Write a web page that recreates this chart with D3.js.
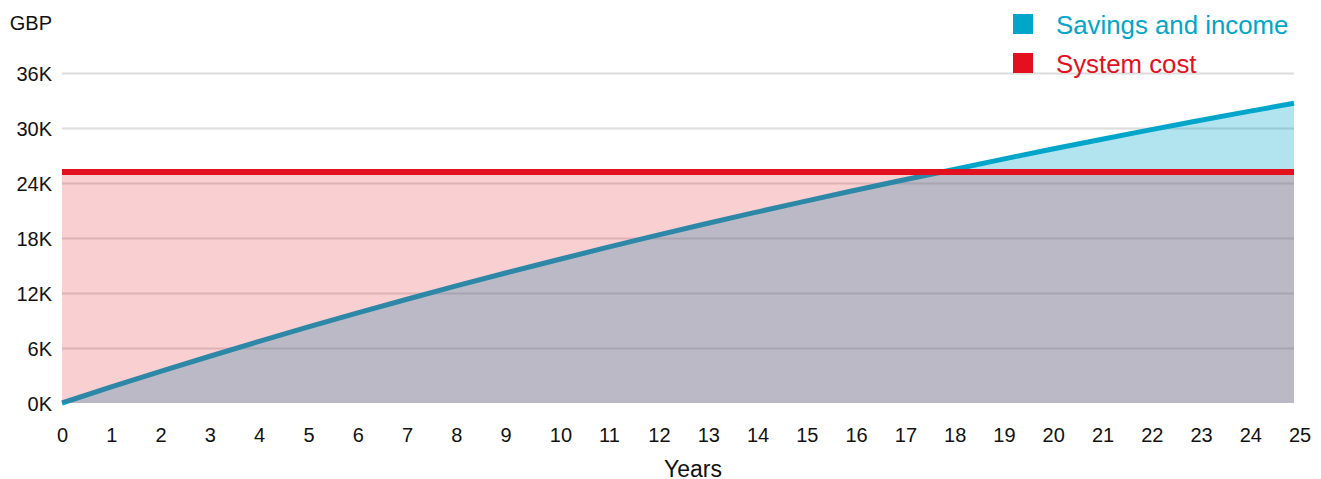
<!DOCTYPE html>
<html>
<head>
<meta charset="utf-8">
<script src="https://cdn.jsdelivr.net/npm/d3@7"></script>
<style>
  html, body { margin: 0; padding: 0; background: #fff; }
  svg { display: block; font-family: "Liberation Sans", Arial, Helvetica, sans-serif; }
</style>
</head>
<body>
<svg id="chart" width="1321" height="479"></svg>
<script>
// ---- Data ----
const years = [0,1,2,3,4,5,6,7,8,9,10,11,12,13,14,15,16,17,18,19,20,21,22,23,24,25];
const savingsIncome = [0, 1.75, 3.45, 5.1, 6.72, 8.3, 9.83, 11.32, 12.77, 14.18, 15.55, 16.89, 18.2, 19.47, 20.71, 21.92, 23.1, 24.25, 25.37, 26.5, 27.6, 28.67, 29.71, 30.73, 31.73, 32.7];
const systemCost = [25.2, 25.2, 25.2, 25.2, 25.2, 25.2, 25.2, 25.2, 25.2, 25.2, 25.2, 25.2, 25.2, 25.2, 25.2, 25.2, 25.2, 25.2, 25.2, 25.2, 25.2, 25.2, 25.2, 25.2, 25.2, 25.2];
const yTicks = [0, 6, 12, 18, 24, 30, 36];
const yTickLabels = ["0K", "6K", "12K", "18K", "24K", "30K", "36K"];
const seriesNames = ["Savings and income", "System cost"];
const seriesColors = ["#00a6ca", "#e3101f"];
const yUnit = "GBP";
const xTitle = "Years";

// ---- Layout ----
const svg = d3.select("#chart");
const plotLeft = 62, plotRight = 1294, plotTop = 73, plotBottom = 403;
const x = d3.scaleLinear().domain([0, 25]).range([plotLeft, plotRight]);
const y = d3.scaleLinear().domain([0, 36]).range([plotBottom, plotTop]);

const savingsData = years.map((t, i) => ({ t, v: savingsIncome[i] }));
const costData = years.map((t, i) => ({ t, v: systemCost[i] }));

// Gridlines + y labels via axis
const yAxis = d3.axisLeft(y)
  .tickValues(yTicks)
  .tickFormat((d, i) => yTickLabels[i])
  .tickSize(-(plotRight - plotLeft))
  .tickPadding(10);
const gy = svg.append("g").attr("transform", `translate(${plotLeft},0)`).call(yAxis);
gy.select(".domain").remove();
gy.selectAll(".tick line")
  .attr("stroke", "#dcdcdc")
  .attr("stroke-width", 2)
  .attr("opacity", d => d === 0 ? 0 : 1);
gy.selectAll(".tick text")
  .attr("fill", "#111")
  .attr("font-size", 20)
  .attr("dy", "0.36em")
  .style("font-family", '"Liberation Sans", Arial, sans-serif');

// Savings area + line
const areaS = d3.area().x(d => x(d.t)).y0(y(0)).y1(d => y(d.v));
const lineS = d3.line().x(d => x(d.t)).y(d => y(d.v));
svg.append("path").datum(savingsData)
  .attr("d", areaS)
  .attr("fill", seriesColors[0])
  .attr("fill-opacity", 0.3);
svg.append("path").datum(savingsData)
  .attr("d", lineS)
  .attr("fill", "none")
  .attr("stroke", seriesColors[0])
  .attr("stroke-width", 5);

// System cost area + line
svg.append("path").datum(costData)
  .attr("d", areaS)
  .attr("fill", seriesColors[1])
  .attr("fill-opacity", 0.2);
svg.append("path").datum(costData)
  .attr("d", lineS)
  .attr("fill", "none")
  .attr("stroke", seriesColors[1])
  .attr("stroke-width", 6);

// X axis labels
const xAxis = d3.axisBottom(x)
  .tickValues(years)
  .tickFormat(d3.format("d"))
  .tickSize(0)
  .tickPadding(24.8);
const gx = svg.append("g").attr("transform", `translate(0,${plotBottom})`).call(xAxis);
gx.select(".domain").remove();
gx.selectAll(".tick text")
  .attr("fill", "#111")
  .attr("font-size", 20)
  .attr("text-anchor", "start")
  .attr("dx", -5.5)
  .style("font-family", '"Liberation Sans", Arial, sans-serif');

// Unit and title
svg.append("text").attr("x", 52).attr("y", 30)
  .attr("text-anchor", "end").attr("font-size", 20).attr("fill", "#111")
  .text(yUnit);
svg.append("text").attr("x", 693).attr("y", 477)
  .attr("text-anchor", "middle").attr("font-size", 23).attr("fill", "#111")
  .text(xTitle);

// Legend
const legendY = [14, 53];
const lg = svg.append("g");
seriesNames.forEach((name, i) => {
  lg.append("rect").attr("x", 1013).attr("y", legendY[i]).attr("width", 20).attr("height", 20)
    .attr("fill", seriesColors[i]);
  lg.append("text").attr("x", 1056).attr("y", legendY[i] + 20)
    .attr("font-size", 25.8).attr("fill", seriesColors[i])
    .text(name);
});
</script>
</body>
</html>
